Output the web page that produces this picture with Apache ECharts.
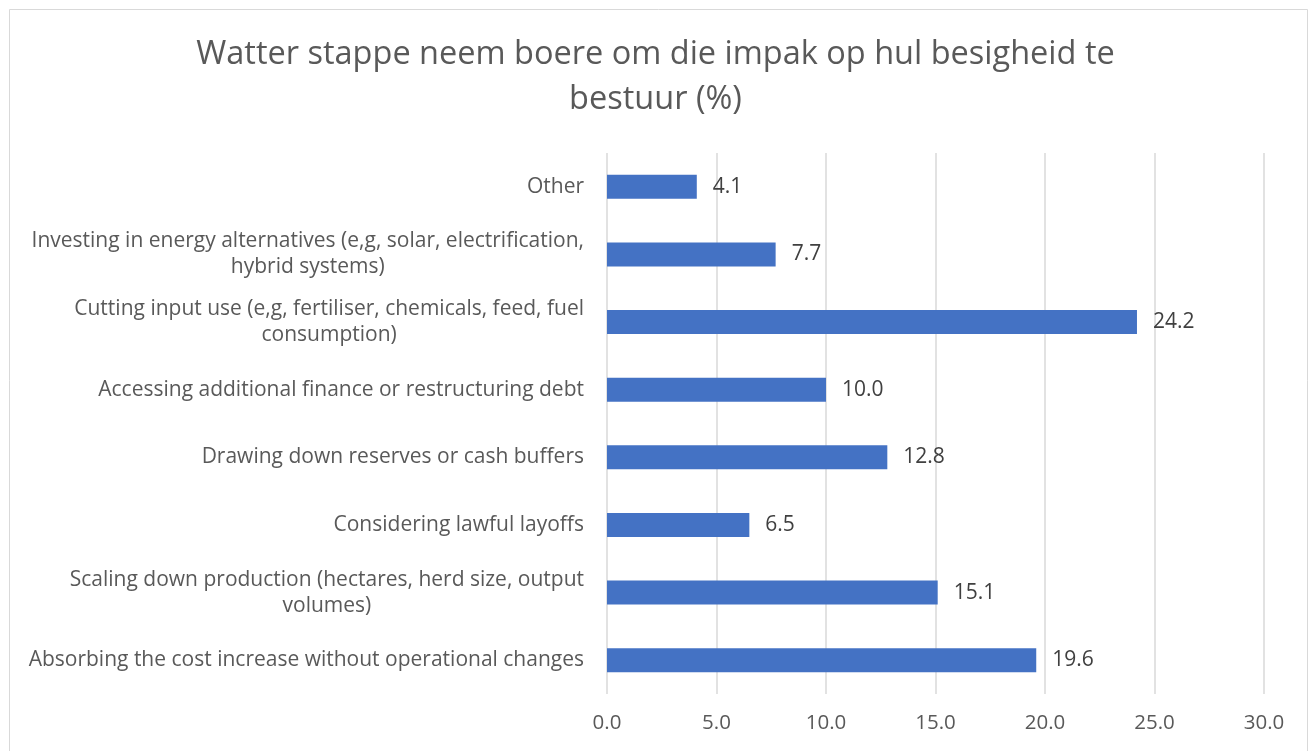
<!DOCTYPE html>
<html>
<head>
<meta charset="utf-8">
<script src="https://cdn.jsdelivr.net/npm/echarts@6/dist/echarts.min.js"></script>
<style>
html,body{margin:0;padding:0;background:#fff;}
#c{width:1311px;height:751px;}
</style>
</head>
<body>
<div id="c"></div>
<script>
const titleText = "Watter stappe neem boere om die impak op hul besigheid te\nbestuur (%)";
// bottom to top
const categories = [
  "Absorbing the cost increase without operational changes",
  "Scaling down production (hectares, herd size, output\nvolumes)",
  "Considering lawful layoffs",
  "Drawing down reserves or cash buffers",
  "Accessing additional finance or restructuring debt",
  "Cutting input use (e,g, fertiliser, chemicals, feed, fuel\nconsumption)",
  "Investing in energy alternatives (e,g, solar, electrification,\nhybrid systems)",
  "Other"
];
const values = [19.6, 15.1, 6.5, 12.8, 10.0, 24.2, 7.7, 4.1];
const xTicks = [0, 30, 5];

const FONT = "Open Sans";
const chart = echarts.init(document.getElementById('c'), null, {renderer: 'canvas'});
chart.setOption({
  animation: false,
  backgroundColor: '#fff',
  graphic: [{
    type: 'rect', shape: {x: 9.5, y: 9.5, width: 1298, height: 760},
    style: {fill: 'none', stroke: '#d9d9d9', lineWidth: 1}, silent: true
  }],
  title: {
    text: titleText, left: 'center', top: 27,
    textStyle: {fontFamily: FONT, fontSize: 32.5, fontWeight: 'normal', color: '#595959', lineHeight: 45}
  },
  grid: {left: 607, right: 47, top: 153, bottom: 57, containLabel: false},
  xAxis: {
    type: 'value', min: xTicks[0], max: xTicks[1], interval: xTicks[2],
    axisLine: {show: false}, axisTick: {show: false},
    splitLine: {show: true, lineStyle: {color: '#d9d9d9', width: 1.5}},
    axisLabel: {
      margin: 19, color: '#595959', fontFamily: FONT, fontSize: 20.5,
      formatter: v => v.toFixed(1)
    }
  },
  yAxis: {
    type: 'category', data: categories,
    axisLine: {show: false}, axisTick: {show: false},
    axisLabel: {
      margin: 23, color: '#595959', fontFamily: FONT, fontSize: 21, lineHeight: 26,
      formatter: v => v.split('\n').map(s => '{c|' + s + '}').join('\n'),
      rich: {c: {align: 'center', color: '#595959', fontFamily: FONT, fontSize: 21, lineHeight: 26}}
    }
  },
  series: [{
    type: 'bar', data: values, barWidth: 24,
    itemStyle: {color: '#4472C4'},
    label: {
      show: true, position: 'right', distance: 16,
      color: '#404040', fontFamily: FONT, fontSize: 21,
      formatter: p => p.value.toFixed(1)
    }
  }]
});
</script>
</body>
</html>
